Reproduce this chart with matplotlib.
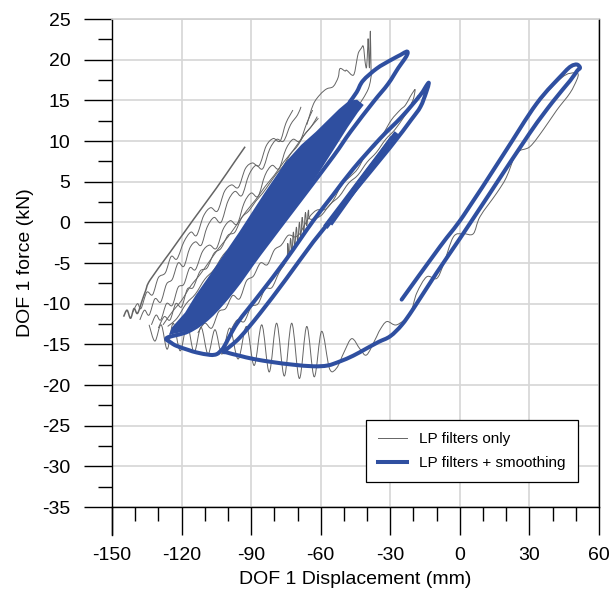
import numpy as np
import matplotlib
matplotlib.use('Agg')
import matplotlib.pyplot as plt
from matplotlib.lines import Line2D
from matplotlib.path import Path
from matplotlib.patches import PathPatch

plt.rcParams['font.family'] = ['Liberation Sans', 'DejaVu Sans']

BLUE = '#2F4FA0'
GRAY = '#646464'

# ---------------- axis ----------------
x_major = [-150, -120, -90, -60, -30, 0, 30, 60]
y_major = [-35, -30, -25, -20, -15, -10, -5, 0, 5, 10, 15, 20, 25]
x_label = 'DOF 1 Displacement (mm)'
y_label = 'DOF 1 force (kN)'
legend_labels = ['LP filters only', 'LP filters + smoothing']

# ---------------- gray (LP filters only) ----------------
gray_straight = [(-145.0, -11.6), (-143.5, -10.8), (-142.0, -11.8), (-140.5, -10.6), (-139.0, -11.2),
                 (-137.0, -9.6), (-135.5, -8.4), (-133.6, -7.1), (-125.0, -3.7), (-115.0, 0.3),
                 (-105.0, 4.2), (-97.0, 7.5), (-92.6, 9.3)]
gray_a = [(-141, -11.0), (-139, -10.0), (-137.5, -10.6), (-135, -8.6), (-132.5, -8.9), (-130, -6.8),
          (-127, -6.2), (-124.5, -4.2), (-122, -4.5), (-119, -2.4), (-116, -1.2), (-113.5, -1.6),
          (-110.5, 0.8), (-107.5, 1.8), (-104.5, 1.4), (-101.5, 3.8), (-98.5, 4.6), (-95.5, 4.3),
          (-92.5, 6.6), (-89.5, 7.3), (-86.5, 7.0), (-83.5, 9.4), (-80.5, 10.3), (-77.5, 10.0),
          (-75, 12.2), (-72, 13.8)]
gray_b = [(-138, -12.0), (-136, -10.8), (-134, -11.4), (-131.5, -9.4), (-129, -9.8), (-126.5, -7.6),
          (-124, -7.0), (-121.5, -5.0), (-119, -5.4), (-116.5, -3.2), (-114, -2.4), (-111.5, -2.8),
          (-109, -0.6), (-106, 0.6), (-103, 0.0), (-100, 2.6), (-97, 3.8), (-94, 3.3), (-91, 5.8),
          (-88, 7.0), (-85, 6.6), (-82, 9.0), (-79, 10.2), (-76, 10.0), (-73, 12.0), (-70, 13.2),
          (-68.5, 14.2)]
gray_c = [(-133, -12.6), (-131, -11.4), (-129, -12.0), (-126.5, -10.0), (-124, -10.2), (-121.5, -8.0),
          (-119, -7.6), (-116.5, -5.6), (-114, -5.8), (-111, -3.6), (-108, -2.8), (-105, -3.2),
          (-102, -0.8), (-99, 0.2), (-96, -0.2), (-93, 2.4), (-90, 3.6), (-87, 3.2), (-84, 5.8),
          (-81, 7.0), (-78, 6.6), (-75, 9.0), (-72, 10.2), (-69, 10.0), (-66, 12.2), (-63.5, 13.8)]
gray_d = [(-130, -13.0), (-127.5, -11.6), (-125, -12.0), (-122.5, -10.0), (-120, -10.4), (-117.5, -8.2),
          (-115, -8.0), (-112, -6.0), (-109, -5.6), (-106, -3.8), (-103, -3.2), (-100, -1.6),
          (-97, -1.2), (-94, 0.6), (-91, 1.4), (-88, 2.6), (-85, 3.6), (-82, 4.8), (-79, 6.0),
          (-76, 7.0), (-73, 8.4), (-70, 9.4), (-67, 10.8), (-64, 11.8), (-61.5, 13.0)]
gray_e = [(-128, -12.6), (-124, -11.0), (-120, -9.6), (-116, -7.8), (-112, -6.4), (-108, -4.8),
          (-104, -3.2), (-100, -1.8), (-96, -0.2), (-92, 1.4), (-88, 2.8), (-84, 4.4), (-80, 5.8),
          (-76, 7.4), (-72, 8.8), (-68, 10.4), (-64, 11.8), (-61, 12.8)]
gray_f = [(-126, -12.8), (-122, -11.8), (-118, -10.0), (-114, -8.8), (-110, -7.0), (-106, -5.8),
          (-102, -4.0), (-98, -2.8), (-94, -1.0), (-90, 0.2), (-86, 1.8), (-82, 3.2), (-78, 4.8),
          (-74, 6.0), (-70, 7.8), (-66, 9.0), (-62, 10.6)]
gray_top = [(-66, 12.0), (-63.2, 14.5), (-60.3, 15.7), (-57.5, 16.4), (-54.6, 16.7), (-52.5, 17.8),
            (-51.7, 18.9), (-49.5, 18.6), (-48.8, 18.7), (-45.9, 18.1), (-44.5, 19.8), (-43.8, 20.8),
            (-42.5, 21.4), (-41.6, 21.6), (-40.8, 19.6), (-40.2, 19.1), (-39.7, 21.8), (-39.5, 22.4),
            (-39.0, 19.0), (-38.6, 23.5), (-38.3, 18.8), (-38.0, 18.5), (-39.5, 16.4), (-44.0, 14.2)]
gray_mid_top = [(-69, -1.4), (-65, 0.6), (-61.7, 1.5), (-58, 1.6), (-54.6, 2.7), (-51, 4.6),
                (-47.4, 5.6), (-44, 6.6), (-40.2, 8.5), (-36.5, 9.4), (-33, 10.9), (-29.5, 12.6),
                (-25.8, 13.8), (-23.5, 14.4), (-21.5, 15.4), (-20.2, 16.0), (-19.3, 16.3),
                (-20.0, 15.2), (-21.0, 14.6)]
gray_mid_a = [(-113, -13.6), (-110, -12.4), (-107, -13.0), (-104, -11.0), (-101, -10.6), (-98, -9.0),
              (-95, -9.4), (-92, -7.2), (-89, -6.6), (-86, -5.0), (-83, -5.2), (-80, -3.4),
              (-77, -2.8), (-74, -1.6), (-71, -1.8), (-69, -1.4)]
gray_mid_b = [(-99, -13.4), (-96, -12.0), (-93, -12.2), (-90, -10.4), (-87, -10.0), (-84, -8.2),
              (-81, -8.0), (-78, -6.2), (-74.7, -4.6), (-74.2, -2.6), (-73.6, -4.2), (-73.0, -2.0),
              (-72.4, -3.6), (-71.8, -1.2), (-71.2, -3.0), (-70.5, -0.6), (-69.9, -2.4), (-69.2, 0.0),
              (-68.6, -1.8), (-68.0, 0.6), (-67.3, -1.2), (-66.6, 1.2), (-66.0, -0.4), (-65.3, 1.5),
              (-64.6, 0.4), (-60, 0.8), (-56, 2.2), (-52, 3.2), (-48, 4.8), (-44, 5.8), (-40, 7.4),
              (-36, 8.6), (-32, 10.2), (-28, 11.4), (-24, 13.0), (-21, 14.2), (-18, 15.6)]
gray_bottom = [(-134, -12.6), (-131.5, -14.6), (-128.8, -12.6), (-126.2, -15.6), (-123.6, -12.4),
               (-120.6, -15.8), (-117.6, -12.6), (-114.6, -16.0), (-111.6, -12.9), (-108.6, -16.2),
               (-105.6, -13.2), (-102.6, -16.2), (-99.2, -13.0), (-95.6, -16.8), (-92.0, -12.8),
               (-88.7, -17.6), (-85.4, -12.6), (-82.2, -18.4), (-79.0, -12.4), (-75.7, -18.9),
               (-72.5, -12.4), (-69.2, -19.2), (-66.0, -12.8), (-62.8, -19.0), (-59.6, -13.4),
               (-56.2, -18.0), (-53.1, -17.9), (-50.0, -16.0), (-46.6, -14.3), (-43.0, -15.6),
               (-40.2, -16.3), (-36.5, -14.4), (-34.4, -13.2), (-31.5, -12.2), (-27.2, -12.6),
               (-21.5, -11.2), (-18.6, -8.7), (-14.3, -6.7), (-10.0, -6.9), (-7.1, -5.2),
               (-2.8, -1.8), (1.5, -1.4), (5.8, -1.4), (8.7, 0.7), (15.9, 3.6), (20.0, 5.5),
               (24.5, 8.5), (30.2, 9.3), (36.0, 11.4), (41.8, 13.8), (47.5, 15.9), (50.4, 17.5),
               (51.0, 18.2), (49.5, 18.4), (44.0, 17.8), (33.0, 14.4), (18.7, 8.3), (1.5, 0.8),
               (-8.6, -3.0), (-25.0, -9.6)]

# ---------------- blue (LP filters + smoothing) ----------------
band_upper_edge = [(-124.5, -13.6), (-123.6, -13.0), (-118, -11.2), (-113.5, -9.1), (-104, -5.2),
                   (-94.8, -1.35), (-84, 3.4), (-74.7, 7.3), (-68, 9.4), (-61.7, 11.0), (-56, 12.6),
                   (-51.7, 13.8), (-47.5, 14.8), (-44.5, 14.9), (-42.3, 14.4)]
band_lower_edge = [(-124.5, -13.6), (-118, -13.2), (-112, -12.2), (-107, -10.9), (-100.5, -8.9),
                   (-90, -5.0), (-80.4, -1.35), (-70, 2.6), (-61.7, 6.0), (-55, 9.0), (-48.8, 11.8),
                   (-44.5, 13.6), (-42.3, 14.4)]
blue_path = [(-47.5, 14.8), (-44.5, 16.0), (-41.8, 17.4), (-35.9, 18.9), (-30.1, 19.9), (-25.5, 20.6),
             (-22.9, 21.0), (-22.6, 20.7), (-24.0, 20.0), (-26.5, 19.0), (-31, 17.0), (-37.3, 14.8),
             (-47, 11.2), (-54.6, 8.1), (-68.9, 2.7), (-86.2, -3.8), (-97.7, -8.3), (-108, -11.6),
             (-117, -13.4), (-126.3, -14.2), (-124.5, -14.8), (-122.1, -15.2), (-117, -15.7),
             (-113.5, -16.0), (-107.7, -16.3), (-104.8, -16.2), (-102.8, -15.7), (-101.5, -15.2),
             (-96, -12.4), (-86.2, -8.8), (-75, -4.6), (-63.2, 0.2), (-54.6, 3.4), (-45.9, 6.6),
             (-34.4, 10.3), (-25, 13.0), (-17.2, 15.6), (-14.2, 16.9), (-13.4, 17.1), (-14.5, 16.0),
             (-17, 14.2), (-21, 12.6), (-30.1, 9.2), (-45.9, 3.7), (-54.6, 0.6), (-63.2, -2.4),
             (-75, -7.0), (-86.2, -11.2), (-95, -14.2), (-101.3, -15.8), (-100.5, -16.0), (-95, -16.4),
             (-89, -16.8), (-80.4, -17.2), (-72, -17.5), (-63.2, -17.7), (-57, -17.6), (-51.7, -17.1),
             (-46, -16.4), (-40.2, -15.5), (-35, -14.7), (-30, -14.0), (-25, -12.6), (-20, -10.6),
             (-10, -6.2), (0, -2.0), (13, 3.6), (30.2, 11.0), (40, 14.8), (47.5, 17.4), (50.5, 18.6),
             (51.8, 19.0), (50.5, 19.4), (48, 19.2), (44.6, 18.3), (33.1, 14.6), (18.7, 8.3),
             (1.5, 0.8), (-8.6, -3.0), (-25.1, -9.5)]
blue_mid_thick_1 = [(-58, -0.6), (-50, 2.4), (-40, 6.2), (-32, 9.2), (-27.2, 11.0)]
blue_mid_thick_2 = [(-56, -0.2), (-45, 4.2), (-35, 8.0), (-29, 10.4)]

# ---------------- figure ----------------
fig = plt.figure(figsize=(6.12, 5.97), dpi=100)
ax = fig.add_axes([112 / 612, 1 - 507 / 597, 487 / 612, 488 / 597])


def arr(pts):
    return np.array(pts, dtype=float)


def smooth_curve(ax, pts, **kw):
    """Draw a curve passing through every reading (Catmull-Rom rendered as cubic Beziers)."""
    p = arr(pts)
    n = len(p)
    verts = [p[0]]
    codes = [Path.MOVETO]
    for i in range(n - 1):
        p0 = p[i - 1] if i > 0 else p[i]
        p3 = p[i + 2] if i + 2 < n else p[i + 1]
        c1 = p[i] + (p[i + 1] - p0) / 6.0
        c2 = p[i + 1] - (p3 - p[i]) / 6.0
        verts += [c1, c2, p[i + 1]]
        codes += [Path.CURVE4, Path.CURVE4, Path.CURVE4]
    patch = PathPatch(Path(verts, codes), fill=False, **kw)
    ax.add_patch(patch)
    return patch


smooth_curve(ax, gray_straight, edgecolor=GRAY, lw=1.1, zorder=2, joinstyle='round')
for g in [gray_a, gray_b, gray_c, gray_d, gray_e, gray_f, gray_top, gray_mid_top, gray_mid_a,
          gray_mid_b, gray_bottom]:
    smooth_curve(ax, g, edgecolor=GRAY, lw=0.7, zorder=2, joinstyle='round')

band = np.vstack([arr(band_upper_edge), arr(band_lower_edge)[::-1]])
ax.fill(band[:, 0], band[:, 1], facecolor=BLUE, edgecolor=BLUE, lw=2.0, zorder=3)
smooth_curve(ax, blue_path, edgecolor=BLUE, lw=2.9, capstyle='round', joinstyle='round', zorder=4)
for b in [blue_mid_thick_1, blue_mid_thick_2]:
    pb = arr(b)
    ax.plot(pb[:, 0], pb[:, 1], color=BLUE, lw=4.0, solid_capstyle='butt', zorder=4)

ax.set_xlim(-150, 60)
ax.set_ylim(-35, 25)
ax.set_xticks(x_major)
ax.set_xticks(np.arange(-150, 61, 10), minor=True)
ax.set_yticks(y_major)
ax.set_yticks(np.arange(-35, 25.1, 2.5), minor=True)
ax.set_xticklabels([str(v) for v in x_major])
ax.set_yticklabels([str(v) for v in y_major])
ax.tick_params(which='major', direction='out', length=20, width=1.0, labelsize=14, pad=10)
ax.tick_params(which='minor', direction='out', length=10, width=1.0)
ax.tick_params(axis='x', which='major', pad=9)
ax.grid(True, which='major', color='#d6d6d6', lw=1.2, zorder=0)
ax.set_axisbelow(True)
for s in ['left', 'right', 'bottom']:
    ax.spines[s].set_linewidth(1.0)
ax.spines['top'].set_color('#d0d0d0')
ax.spines['top'].set_linewidth(1.2)

ax.add_line(Line2D([0, 0], [0, -28 / 488], transform=ax.transAxes, color='black', lw=1.0,
                   clip_on=False))

ax.set_xlabel(x_label, fontsize=14, labelpad=5)
ax.set_ylabel(y_label, fontsize=14, labelpad=6)

handles = [Line2D([], [], color=GRAY, lw=0.7), Line2D([], [], color=BLUE, lw=2.9)]
leg = ax.legend(handles, legend_labels, loc='upper left', bbox_to_anchor=(366 / 612, 1 - 420 / 597),
                bbox_transform=fig.transFigure, borderaxespad=0, fontsize=11, fancybox=False,
                framealpha=1, edgecolor='black', handlelength=1.9, handletextpad=0.8,
                borderpad=0.8, labelspacing=0.65)
leg.get_frame().set_linewidth(0.9)

fig.savefig('out.png', dpi=100)
